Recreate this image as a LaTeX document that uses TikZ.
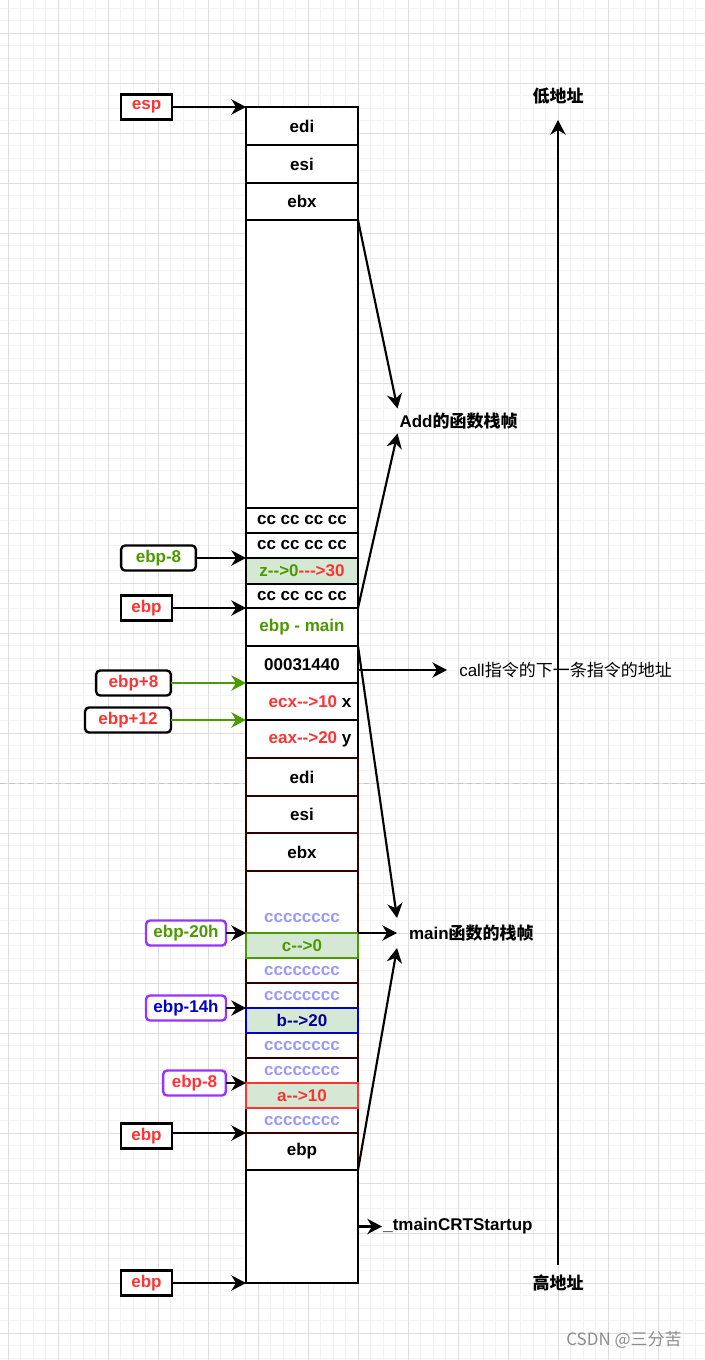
\documentclass[tikz,border=0pt]{standalone}
\usepackage{fontspec}
\setmainfont{Liberation Sans}
\newfontfamily\cjk{Noto Sans CJK SC}
\usetikzlibrary{arrows.meta}
\definecolor{cred}{HTML}{FF3333}
\definecolor{cgreen}{HTML}{4D9900}
\definecolor{cblue}{HTML}{0000CC}
\definecolor{cnavy}{HTML}{000099}
\definecolor{cpurple}{HTML}{9933FF}
\definecolor{cfill}{HTML}{D5E8D4}
\definecolor{cccc}{HTML}{9999FF}
\definecolor{cdark}{HTML}{330000}
\definecolor{gmajor}{HTML}{DEDEDE}
\definecolor{gminor}{HTML}{F2F2F2}
\newcommand\fsz{\fontsize{12.75}{15}\selectfont}
\newcommand\stackcell[5]{%
  \node[cellbox,#4,minimum height={(#3-#2)*0.75pt}] (#1) at (302,{(#2+#3)/2}) {#5};}
\tikzset{
  cellbox/.style={draw,line width=1.8pt,inner sep=0pt,outer sep=0pt,minimum width=84pt,fill=white,font=\fsz\bfseries},
  lowcell/.style={draw=cdark},
  lbl/.style={draw,line width=1.8pt,fill=white,font=\fsz\bfseries,minimum height=18.75pt,inner sep=0pt,outer sep=0pt},
  rlbl/.style={lbl,rounded corners=3pt},
  arr/.style={line width=1.6pt,-{Stealth[length=11pt,width=11.5pt,inset=3.5pt]}},
  garr/.style={arr,draw=cgreen},
  txt/.style={font=\fsz\bfseries,inner sep=0pt,outer sep=0pt},
}
\begin{document}
\begin{tikzpicture}[x=0.75pt,y=-0.75pt,every node/.style={font=\fsz}]
\useasboundingbox (0,0) rectangle (705,1360);
\fill[white] (0,0) rectangle (705,1360);
% grid
\foreach \i in {0,...,57} {\draw[gminor,line width=0.75pt] ({8.3+12.5*\i},0) -- ({8.3+12.5*\i},1360);}
\foreach \i in {0,...,109} {\draw[gminor,line width=0.75pt] (0,{8.3+12.5*\i}) -- (705,{8.3+12.5*\i});}
\foreach \i in {0,...,14} {\draw[gmajor,line width=0.75pt] ({8.3+50*\i},0) -- ({8.3+50*\i},1360);}
\foreach \i in {0,...,26} {\draw[gmajor,line width=0.75pt] (0,{33+50*\i}) -- (705,{33+50*\i});}
\draw[gray!45,line width=0.75pt,dash pattern=on 4pt off 3pt] (0,783) -- (705,783);

% stack cells (upper: Add frame)
\stackcell{edi}{107}{145}{}{edi}
\stackcell{esi}{145}{183}{}{esi}
\stackcell{ebx}{183}{220}{}{ebx}
\stackcell{bigA}{220}{508}{}{}
\stackcell{ccA}{508}{533}{}{cc cc cc cc}
\stackcell{ccB}{533}{558}{}{cc cc cc cc}
\stackcell{zcell}{558}{584}{fill=cfill}{\textcolor{cgreen}{z-{}->0}\textcolor{cred}{-{}-{}->30}}
\stackcell{ccC}{584}{608}{}{cc cc cc cc}
\stackcell{ebpmain}{608}{646}{}{\textcolor{cgreen}{ebp - main}}
\stackcell{ret}{646}{683}{}{00031440}
\stackcell{ecx}{683}{720}{}{\hspace*{12pt}\textcolor{cred}{ecx-{}->10} x}
\stackcell{eax}{720}{758}{}{\hspace*{12pt}\textcolor{cred}{eax-{}->20} y}
% lower: main frame
\stackcell{ediM}{758}{796}{lowcell}{edi}
\stackcell{esiM}{796}{833}{lowcell}{esi}
\stackcell{ebxM}{833}{871}{lowcell}{ebx}
\stackcell{bigM}{871}{933}{lowcell}{}
\node[txt,text=cccc] (ccT) at (302,918) {cccccccc};
\stackcell{ccM1}{958}{983}{lowcell}{\textcolor{cccc}{cccccccc}}
\stackcell{ccM2}{983}{1008}{lowcell}{\textcolor{cccc}{cccccccc}}
\stackcell{ccM3}{1033}{1058}{lowcell}{\textcolor{cccc}{cccccccc}}
\stackcell{ccM4}{1058}{1083}{lowcell}{\textcolor{cccc}{cccccccc}}
\stackcell{ccM5}{1108}{1133}{lowcell}{\textcolor{cccc}{cccccccc}}
\stackcell{ebpM}{1133}{1170}{lowcell}{ebp}
\stackcell{bigB}{1170}{1283}{}{}
\stackcell{ccell}{933}{958}{draw=cgreen,fill=cfill}{\textcolor{cgreen}{c-{}->0}}
\stackcell{bcell}{1008}{1033}{draw=cblue,fill=cfill}{\textcolor{cnavy}{b-{}->20}}
\stackcell{acell}{1083}{1108}{draw=cred,fill=cfill}{\textcolor{cred}{a-{}->10}}

% left pointer labels
\node[lbl,minimum width=38pt,text=cred] (esp) at (146.5,107) {esp};
\node[rlbl,minimum width=56pt,text=cgreen] (ebpm8) at (158.5,558) {ebp-8};
\node[lbl,minimum width=38pt,text=cred] (ebpA) at (146.5,608) {ebp};
\node[rlbl,minimum width=56pt,text=cred] (ebpp8) at (133.5,683) {ebp+8};
\node[rlbl,minimum width=64.5pt,text=cred] (ebpp12) at (128,720) {ebp+12};
\node[rlbl,draw=cpurple,minimum width=60pt,text=cgreen] (ebp20h) at (186,933) {ebp-20h};
\node[rlbl,draw=cpurple,minimum width=60pt,text=cblue] (ebp14h) at (186,1008) {ebp-14h};
\node[rlbl,draw=cpurple,minimum width=47pt,text=cred] (ebp8b) at (194.5,1083) {ebp-8};
\node[lbl,minimum width=38pt,text=cred] (ebpB) at (146.5,1136) {ebp};
\node[lbl,minimum width=38pt,text=cred] (ebpC) at (146.5,1283) {ebp};

\draw[arr] (esp.east) -- (edi.north west);
\draw[arr] (ebpm8.east) -- (zcell.north west);
\draw[arr] (ebpA.east) -- (ebpmain.north west);
\draw[garr] (ebpp8.east) -- (ecx.north west);
\draw[garr] (ebpp12.east) -- (eax.north west);
\draw[arr] (ebp20h.east) -- (ccell.north west);
\draw[arr] (ebp14h.east) -- (bcell.north west);
\draw[arr] (ebp8b.east) -- (acell.north west);
\draw[arr] (ebpB.east |- ebpM.north west) -- (ebpM.north west);
\draw[arr] (ebpC.east) -- (bigB.south west);

% right labels
\node[txt,inner xsep=1.5pt,minimum height=18.75pt,anchor=west] (addF) at (397.5,421) {Add{\cjk 的函数栈帧}};
\node[txt,inner xsep=9pt,minimum height=22.5pt,anchor=west] (mainF) at (397,933) {main{\cjk 函数的栈帧}};
\node[inner sep=0pt,inner xsep=9pt,anchor=west] (call) at (447,670) {call{\cjk 指令的下一条指令的地址}};
\node[txt,inner xsep=1pt,anchor=west] (crt) at (382,1226.5) {\_tmainCRTStartup};
\node[txt,minimum height=36pt,font=\fsz\cjk\bfseries] (lo) at (558,96) {低地址};
\node[txt,minimum height=27pt,font=\fsz\cjk\bfseries] (hi) at (558,1283) {高地址};
\node[inner sep=0pt,text=black!45,font=\fsz\cjk] (wm) at (624,1340) {CSDN @三分苦};

\draw[arr] (bigA.north east) -- (addF.north west);
\draw[arr] (ebpmain.north east) -- (addF.south west);
\draw[arr] (ret.north east) -- (mainF.north west);
\draw[arr] (ccell.north east) -- (mainF.west);
\draw[arr] (ebpM.south east) -- (mainF.south west);
\draw[arr,line width=1.3pt] (ret.east |- call.west) -- (call.west);
\draw[arr] (bigB.east |- crt.west) -- (crt.west);
\draw[arr] (hi.north) -- (lo.south);
\end{tikzpicture}
\end{document}
